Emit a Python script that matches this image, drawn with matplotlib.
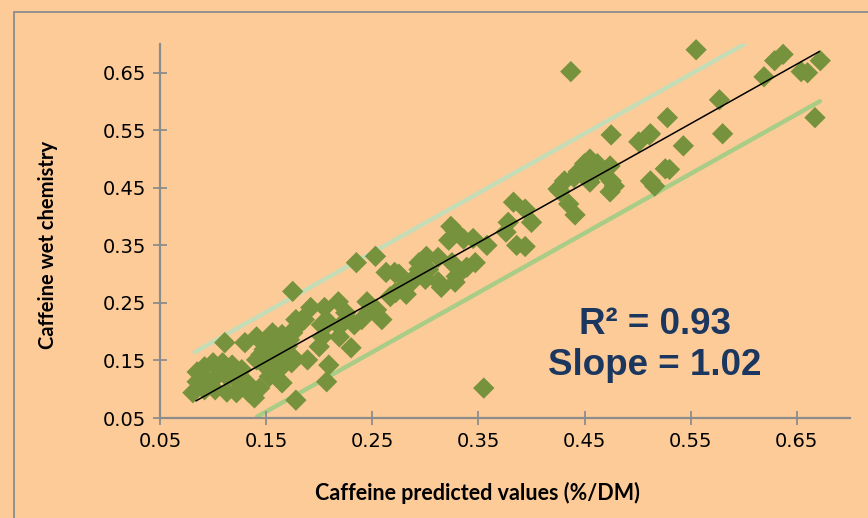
import matplotlib
matplotlib.use("Agg")
import matplotlib.pyplot as plt
from matplotlib.patches import Rectangle
import numpy as np

predicted = [0.555, 0.629, 0.637, 0.619, 0.654, 0.660, 0.672, 0.577, 0.528, 0.580, 0.667, 0.512, 0.437,
             0.475, 0.501, 0.511, 0.543, 0.526, 0.530, 0.512, 0.516,
             0.455, 0.450, 0.462, 0.474, 0.444, 0.431, 0.427, 0.455, 0.475, 0.478, 0.474, 0.435, 0.441, 0.425,
             0.458, 0.466, 0.440,
             0.383, 0.394, 0.400, 0.378, 0.376, 0.386, 0.394,
             0.324, 0.328, 0.322, 0.336, 0.345, 0.358,
             0.294, 0.301, 0.312, 0.294, 0.303, 0.325, 0.347, 0.339, 0.329, 0.328, 0.312, 0.300, 0.315, 0.287, 0.280,
             0.235, 0.253, 0.263, 0.271, 0.175, 0.192, 0.205, 0.218, 0.225, 0.245, 0.247, 0.254, 0.259, 0.178,
             0.184, 0.202, 0.209, 0.219, 0.233, 0.240, 0.175, 0.203, 0.219, 0.200, 0.230, 0.189, 0.175, 0.209,
             0.174, 0.275, 0.267, 0.272, 0.282, 0.291,
             0.111, 0.130, 0.141, 0.156, 0.162, 0.172, 0.178, 0.186, 0.148, 0.158, 0.169, 0.141, 0.150, 0.162,
             0.153, 0.165, 0.178,
             0.085, 0.092, 0.100, 0.109, 0.118, 0.127, 0.085, 0.094, 0.103, 0.113, 0.122, 0.132, 0.081, 0.092,
             0.102, 0.113, 0.122, 0.134, 0.144, 0.139,
             0.355, 0.207, 0.155, 0.165, 0.145, 0.160, 0.170]
measured = [0.690, 0.671, 0.682, 0.643, 0.652, 0.650, 0.671, 0.603, 0.572, 0.544, 0.572, 0.544, 0.652,
            0.542, 0.530, 0.542, 0.523, 0.483, 0.482, 0.462, 0.453,
            0.500, 0.492, 0.492, 0.488, 0.478, 0.462, 0.444, 0.460, 0.462, 0.453, 0.443, 0.422, 0.403, 0.448,
            0.472, 0.480, 0.468,
            0.425, 0.413, 0.390, 0.390, 0.373, 0.350, 0.348,
            0.383, 0.375, 0.359, 0.361, 0.362, 0.350,
            0.320, 0.331, 0.329, 0.308, 0.308, 0.320, 0.320, 0.312, 0.296, 0.286, 0.287, 0.291, 0.277, 0.286, 0.279,
            0.320, 0.331, 0.303, 0.303, 0.270, 0.242, 0.242, 0.252, 0.233, 0.252, 0.235, 0.238, 0.221, 0.221,
            0.221, 0.212, 0.216, 0.209, 0.212, 0.221, 0.198, 0.191, 0.191, 0.174, 0.172, 0.151, 0.156, 0.142,
            0.146, 0.300, 0.261, 0.268, 0.265, 0.296,
            0.181, 0.181, 0.191, 0.198, 0.183, 0.186, 0.207, 0.221, 0.169, 0.160, 0.160, 0.151, 0.139, 0.134,
            0.122, 0.111, 0.081,
            0.130, 0.139, 0.146, 0.146, 0.142, 0.134, 0.113, 0.116, 0.122, 0.122, 0.116, 0.111, 0.094, 0.099,
            0.099, 0.095, 0.094, 0.094, 0.102, 0.085,
            0.102, 0.113, 0.185, 0.195, 0.160, 0.150, 0.175]

fit_slope = 1.034
fit_intercept = -0.007
band_offset_upper = 0.086
band_offset_lower = -0.087

x_ticks = [0.05, 0.15, 0.25, 0.35, 0.45, 0.55, 0.65]
y_ticks = [0.05, 0.15, 0.25, 0.35, 0.45, 0.55, 0.65]
x_label = "Caffeine predicted values (%/DM)"
y_label = "Caffeine wet chemistry"
stats_text = "R² = 0.93\nSlope = 1.02"

bg = "#FDCB98"
fig = plt.figure(figsize=(8.68, 5.18), dpi=100, facecolor=bg)
ax = fig.add_axes([160 / 868, 100 / 518, 690 / 868, 374 / 518])
ax.set_facecolor(bg)

fig.patches.append(Rectangle((14 / 868, -0.1), 1.2, (518 - 12) / 518 + 0.1,
                             transform=fig.transFigure, fill=False,
                             edgecolor="#8C8C8C", linewidth=1.3))

xs = np.linspace(0.05, 0.70, 300)
fit = fit_slope * xs + fit_intercept
upper = fit + band_offset_upper
lower = fit + band_offset_lower
mask_u = (xs >= 0.081) & (upper <= 0.704)
mask_l = (lower >= 0.05) & (xs <= 0.673)
ax.plot(xs[mask_u], upper[mask_u], color="#C5DDB7", lw=3.2, solid_capstyle="round", zorder=1)
ax.plot(xs[mask_l], lower[mask_l], color="#A9CD86", lw=3.2, solid_capstyle="round", zorder=1)

ax.scatter(predicted, measured, marker="D", s=118, color="#76923C", edgecolors="none",
           zorder=2, clip_on=False)

xf = np.array([0.084, 0.671])
ax.plot(xf, fit_slope * xf + fit_intercept, color="black", lw=1.1, zorder=3)

ax.set_xlim(0.05, 0.70)
ax.set_ylim(0.05, 0.70)
ax.set_xticks(x_ticks)
ax.set_yticks(y_ticks)
ax.set_xticklabels([f"{v:.2f}" for v in x_ticks])
ax.set_yticklabels([f"{v:.2f}" for v in y_ticks])
for s in ["top", "right"]:
    ax.spines[s].set_visible(False)
for s in ["left", "bottom"]:
    ax.spines[s].set_color("#8C8C8C")
    ax.spines[s].set_linewidth(1.6)
ax.tick_params(direction="inout", length=10, width=1.3, color="#8C8C8C",
               labelsize=14, labelcolor="black", pad=5)
for lab in ax.get_xticklabels() + ax.get_yticklabels():
    lab.set_family("DejaVu Sans")

fig.text(477 / 868, 1 - 493 / 518, x_label, ha="center", va="center",
         fontsize=15.5, fontweight="bold", family="Lato")
fig.text(48 / 868, 1 - 245 / 518, y_label, ha="center", va="center", rotation=90,
         fontsize=14.5, fontweight="bold", family="Lato")

fig.text(655 / 868, 1 - 345 / 518, stats_text, ha="center", va="center",
         fontsize=26.5, fontweight="bold", color="#1B375F", family="Liberation Sans",
         linespacing=1.2)

fig.savefig("out.png", dpi=100, facecolor=bg)
